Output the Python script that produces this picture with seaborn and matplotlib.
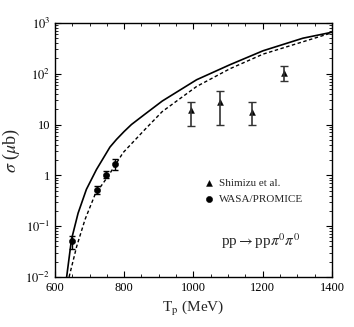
import matplotlib.pyplot as plt
import numpy as np
import pandas as pd
import seaborn as sns

plt.switch_backend("Agg")

# theory curves
solid_tp = [634, 648, 667, 691, 720, 759, 778, 800, 821, 860, 910, 1009, 1105, 1201, 1316, 1400]
solid_sigma = [0.01, 0.055, 0.18, 0.53, 1.3, 3.6, 5.1, 7.3, 10, 16, 29, 76, 150, 283, 500, 655]
dashed_tp = [641, 663, 687, 716, 754, 797, 860, 910, 1009, 1105, 1201, 1316, 1400]
dashed_sigma = [0.01, 0.04, 0.135, 0.42, 0.97, 2.8, 8, 18, 56, 125, 243, 425, 640]

# Shimizu et al.
shimizu_tp = [992, 1078, 1168, 1261]
shimizu_sigma = [19, 28, 18, 102]
shimizu_lo = [9.5, 10, 10, 72]
shimizu_hi = [28, 45, 28, 144]

# WASA/PROMICE
wasa_tp = [650, 722, 749, 774]
wasa_sigma = [0.051, 0.51, 1.03, 1.64]
wasa_lo = [0.036, 0.42, 0.9, 1.3]
wasa_hi = [0.065, 0.62, 1.2, 2.1]

x_ticks = [600, 800, 1000, 1200, 1400]
y_ticks = [1e-2, 1e-1, 1, 10, 1e2, 1e3]
y_tick_labels = [r"$10^{-2}$", r"$10^{-1}$", "1", "10", r"$10^{2}$", r"$10^{3}$"]


def main() -> None:
    sns.set_style("ticks")
    plt.rcParams["font.family"] = ["Liberation Serif", "DejaVu Serif"]
    plt.rcParams["mathtext.fontset"] = "stix"

    fig = plt.figure(figsize=(3.54, 3.27), dpi=100)
    ax = fig.add_axes([0.155, 0.153, 0.783, 0.777])

    solid_df = pd.DataFrame({"tp": solid_tp, "sigma": solid_sigma})
    dashed_df = pd.DataFrame({"tp": dashed_tp, "sigma": dashed_sigma})
    sns.lineplot(data=solid_df, x="tp", y="sigma", ax=ax, color="black", lw=1.2)
    sns.lineplot(data=dashed_df, x="tp", y="sigma", ax=ax, color="black", lw=1.0,
                 linestyle=(0, (2.5, 1.8)))

    s_err = [np.array(shimizu_sigma) - np.array(shimizu_lo),
             np.array(shimizu_hi) - np.array(shimizu_sigma)]
    ax.errorbar(shimizu_tp, shimizu_sigma, yerr=s_err, fmt="none", ecolor="#333333",
                elinewidth=1.2, capsize=3, capthick=1)
    w_err = [np.array(wasa_sigma) - np.array(wasa_lo),
             np.array(wasa_hi) - np.array(wasa_sigma)]
    ax.errorbar(wasa_tp, wasa_sigma, yerr=w_err, fmt="none", ecolor="black",
                elinewidth=1, capsize=2.5, capthick=1)

    sns.scatterplot(x=shimizu_tp, y=shimizu_sigma, ax=ax, marker="^", s=18,
                    color="black", edgecolor="black", label="Shimizu et al.")
    sns.scatterplot(x=wasa_tp, y=wasa_sigma, ax=ax, marker="o", s=20,
                    color="black", edgecolor="black", label="WASA/PROMICE")

    ax.set_yscale("log")
    ax.set_xlim(600, 1400)
    ax.set_ylim(1e-2, 1e3)
    ax.set_xticks(x_ticks)
    ax.set_xticks(np.arange(600, 1401, 50), minor=True)
    ax.set_yticks(y_ticks)
    ax.set_yticklabels(y_tick_labels)
    ax.tick_params(which="both", direction="in", top=True, right=True,
                   labelsize=9, colors="black")
    ax.tick_params(which="major", length=4)
    ax.tick_params(which="minor", length=2)
    for spine in ax.spines.values():
        spine.set_visible(True)
        spine.set_color("black")
        spine.set_linewidth(1)

    ax.set_xlabel(r"T$_\mathrm{p}$ (MeV)", fontsize=11, labelpad=4)
    ax.set_ylabel(r"$\sigma$ ($\mu$b)", fontsize=13, labelpad=2)

    ax.legend(loc="upper left", bbox_to_anchor=(0.52, 0.405), frameon=False,
              fontsize=8, handletextpad=0.4, labelspacing=0.55,
              handlelength=1.0, borderaxespad=0)
    ax.text(0.6, 0.12, r"pp$\rightarrow$pp$\pi^0\pi^0$", transform=ax.transAxes,
            fontsize=11)

    fig.savefig("out.png", dpi=100, facecolor="white")
    plt.close(fig)


if __name__ == "__main__":
    main()
